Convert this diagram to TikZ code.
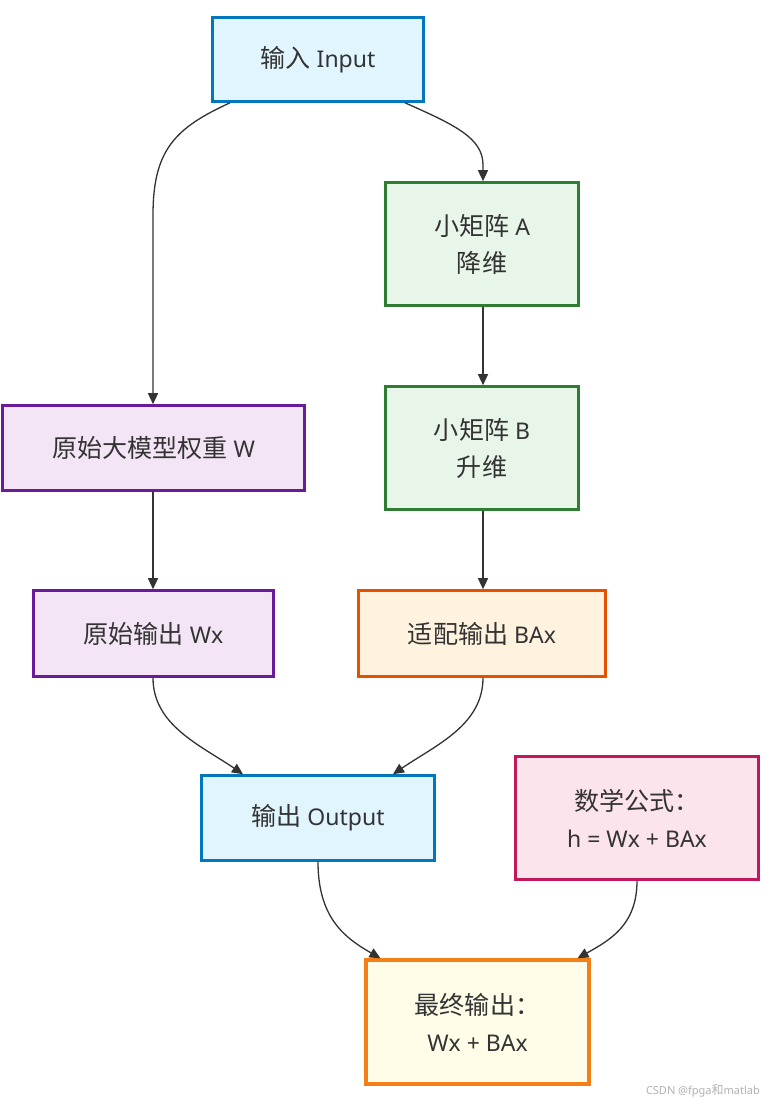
\documentclass[tikz,border=0pt]{standalone}
\usepackage{fontspec}
\setmainfont{Noto Sans}
\newfontfamily\cjk[Scale=1.09]{Noto Sans CJK SC}
\usetikzlibrary{arrows.meta}
\definecolor{txt}{HTML}{333333}
\definecolor{blueF}{HTML}{E1F5FE}\definecolor{blueD}{HTML}{0277BD}
\definecolor{greenF}{HTML}{E8F5E9}\definecolor{greenD}{HTML}{2E7D32}
\definecolor{purF}{HTML}{F3E5F5}\definecolor{purD}{HTML}{6A1B9A}
\definecolor{orF}{HTML}{FFF3E0}\definecolor{orD}{HTML}{E65100}
\definecolor{pkF}{HTML}{FCE4EC}\definecolor{pkD}{HTML}{C2185B}
\definecolor{yeF}{HTML}{FFFDE7}\definecolor{yeD}{HTML}{F57F17}
\tikzset{
  box/.style={draw, line width=2.6pt, text=txt, align=center, inner sep=0pt,
    font=\fontsize{23}{37}\selectfont},
  bluebox/.style={box, fill=blueF, draw=blueD},
  greenbox/.style={box, fill=greenF, draw=greenD},
  purbox/.style={box, fill=purF, draw=purD},
  orbox/.style={box, fill=orF, draw=orD},
  pkbox/.style={box, fill=pkF, draw=pkD},
  yebox/.style={box, fill=yeF, draw=yeD, line width=3.4pt},
  conn/.style={draw=txt, line width=1.3pt, -{Triangle[length=11pt,width=10pt]}},
}
\begin{document}
\begin{tikzpicture}[x=1pt,y=-1pt]
\useasboundingbox[fill=white] (0,0) rectangle (768,1103);
\node[bluebox, minimum width=211pt, minimum height=84pt] (in) at (318,59.5) {{\cjk 输入} Input};
\node[greenbox, minimum width=193pt, minimum height=123pt] (a) at (482,244) {{\cjk 小矩阵} A\\{\cjk 降维}};
\node[greenbox, minimum width=193pt, minimum height=123pt] (b) at (482,448) {{\cjk 小矩阵} B\\{\cjk 升维}};
\node[purbox, minimum width=302pt, minimum height=85pt] (w) at (153.5,448) {{\cjk 原始大模型权重} W};
\node[purbox, minimum width=240pt, minimum height=86pt] (wx) at (153.5,633.5) {{\cjk 原始输出} Wx};
\node[orbox, minimum width=247pt, minimum height=86pt] (bax) at (482,633.5) {{\cjk 适配输出} BAx};
\node[bluebox, minimum width=233pt, minimum height=85pt] (out) at (318,818) {{\cjk 输出} Output};
\node[pkbox, minimum width=243pt, minimum height=123pt] (f) at (637,818) {{\cjk 数学公式：}\\h = Wx + BAx};
\node[yebox, minimum width=223pt, minimum height=124pt] (fin) at (477.5,1022) {{\cjk 最终输出：}\\Wx + BAx};
\node[anchor=east, text=black!30, font=\fontsize{11}{13}\selectfont, inner sep=0pt] (wm) at (760,1091) {CSDN @fpga{\cjk 和}matlab};

\draw[conn] ([xshift=-88pt]in.south) .. controls (175,128) and (153,150) .. (153,215) -- ([xshift=-0.5pt]w.north);
\draw[conn] ([xshift=87pt]in.south) .. controls (455,125) and (483,138) .. (483,165) -- ([xshift=1pt]a.north);
\draw[conn] ([xshift=1pt]a.south) -- ([xshift=1pt]b.north);
\draw[conn] ([xshift=1pt]b.south) -- ([xshift=1pt]bax.north);
\draw[conn] ([xshift=-0.5pt]w.south) -- ([xshift=-0.5pt]wx.north);
\draw[conn] ([xshift=-0.5pt]wx.south) .. controls (153,725) and (200,745) .. ([xshift=-75pt]out.north);
\draw[conn] ([xshift=1pt]bax.south) .. controls (483,725) and (436,745) .. ([xshift=75pt]out.north);
\draw[conn] (out.south) .. controls (318,918) and (345,938) .. ([xshift=-97pt]fin.north);
\draw[conn] (f.south) .. controls (637,925) and (610,940) .. ([xshift=100pt]fin.north);
\end{tikzpicture}
\end{document}
